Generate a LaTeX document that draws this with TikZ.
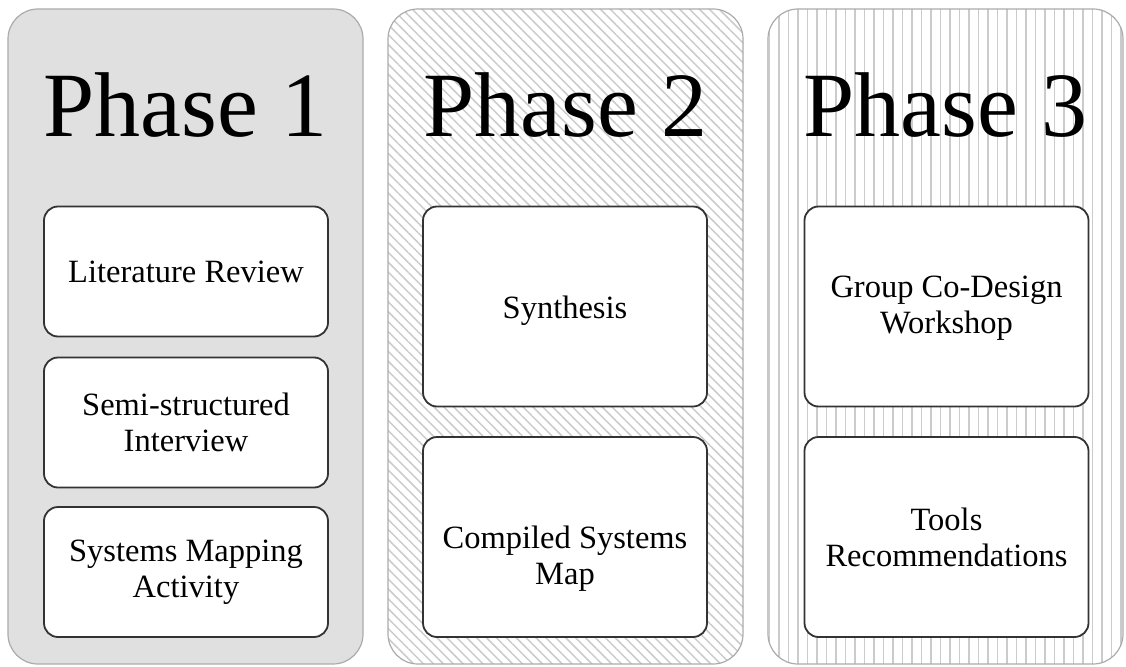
\documentclass[tikz,border=0pt]{standalone}
\usepackage{fontspec}
\setmainfont{Liberation Serif}
\usetikzlibrary{patterns.meta}
\definecolor{panelgray}{HTML}{E0E0E0}
\definecolor{paneledge}{HTML}{ABABAB}
\definecolor{stripe}{HTML}{CBCBCB}
\definecolor{boxedge}{HTML}{333333}
\tikzset{
  panel/.style={draw=paneledge, line width=1.2pt, rounded corners=30pt,
    minimum width=355pt, minimum height=655pt, inner sep=0pt},
  dotted panel/.style={panel, fill=panelgray},
  slanted panel/.style={panel, pattern={Lines[angle=-45, distance=7pt, line width=1.5pt]},
    pattern color=stripe},
  upright panel/.style={panel, pattern={Lines[angle=90, distance=9.5pt, line width=1.3pt]},
    pattern color=stripe},
  phase title/.style={anchor=base, font=\fontsize{92}{92}\selectfont},
  box text/.style={align=center, font=\fontsize{32.5}{36}\selectfont},
  stepbox/.style={draw=boxedge, fill=white, line width=1.8pt, rounded corners=14pt,
    minimum width=284pt, box text},
  short box/.style={stepbox, minimum height=130pt},
  tall box/.style={stepbox, minimum height=200pt},
}
\begin{document}
\begin{tikzpicture}[x=1pt, y=-1pt]
\useasboundingbox (0,0) rectangle (1126,666);

% three phase panels
\node[dotted panel]  (p1) at (185.5,336.5) {};
\node[slanted panel] (p2) at (565.5,336.5) {};
\node[upright panel] (p3) at (945.5,336.5) {};

% panel headings
\node[phase title] (t1) at (185.5,136) {Phase 1};
\node[phase title] (t2) at (565.5,136) {Phase 2};
\node[phase title] (t3) at (945.5,136) {Phase 3};

% phase 1 activities
\node[short box] (lit)  at (186,271.5) {Literature Review};
\node[short box] (int)  at (186,422.5) {Semi-structured\\Interview};
\node[short box] (map)  at (186,572)   {Systems Mapping\\Activity};

% phase 2 activities (labels sit a little below the box centres)
\node[tall box] (syn)  at (565,306.5) {};
\node[box text] (syntext) at ([yshift=-4pt]syn.center) {Synthesis};
\node[tall box] (comp) at (565,537)   {};
\node[box text] (comptext) at ([yshift=-22pt]comp.center) {Compiled Systems\\Map};

% phase 3 activities
\node[tall box] (work) at (946.5,306.5) {};
\node[box text] (worktext) at ([yshift=-2pt]work.center) {Group Co-Design\\Workshop};
\node[tall box] (tool) at (946.5,537)   {Tools\\Recommendations};
\end{tikzpicture}
\end{document}
